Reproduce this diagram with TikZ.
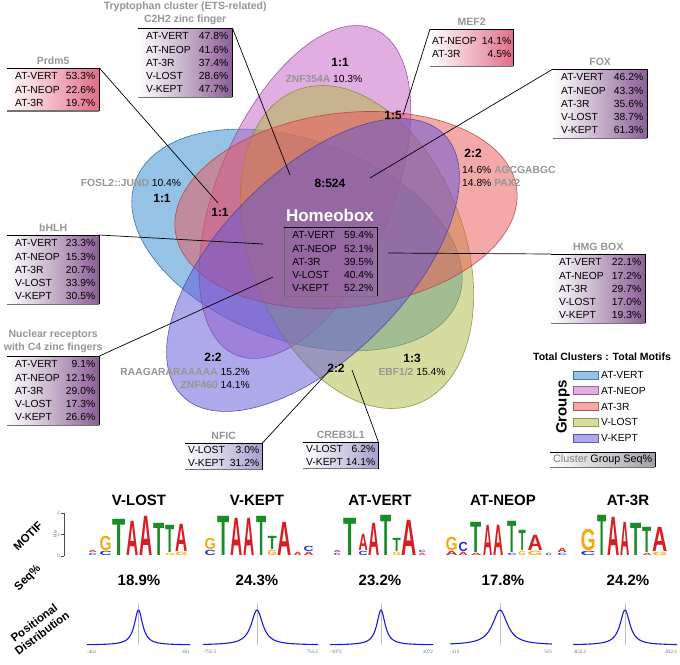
\documentclass[tikz,border=0pt]{standalone}
\usepackage{fontspec}
\setmainfont{Liberation Sans}
\newfontfamily\axisfont{Liberation Serif}
\usepackage{graphicx}
\usetikzlibrary{positioning}
\definecolor{vert}{RGB}{45,135,205}
\definecolor{neop}{RGB}{195,95,195}
\definecolor{thr}{RGB}{235,85,85}
\definecolor{lost}{RGB}{175,185,65}
\definecolor{kept}{RGB}{95,85,215}
\definecolor{boxpurple}{RGB}{140,95,150}
\definecolor{boxpink}{RGB}{225,110,135}
\definecolor{boxlav}{RGB}{165,160,205}
\definecolor{boxgray}{RGB}{160,160,168}
\definecolor{lblgray}{RGB}{150,150,150}
\definecolor{lgA}{RGB}{215,30,35}
\definecolor{lgT}{RGB}{25,140,40}
\definecolor{lgG}{RGB}{245,170,20}
\definecolor{lgC}{RGB}{30,50,200}
\definecolor{distblue}{RGB}{25,25,230}

\newcommand{\boxfont}{\fontsize{10.3}{13.2}\selectfont}
\newcommand{\titlefont}{\fontsize{10.5}{13}\selectfont\bfseries}
\newcommand{\countfont}{\fontsize{12}{14}\selectfont\bfseries}
\newcommand{\srow}[3][4pt]{\hspace*{#1}#2\hfill#3}
\newcommand{\gname}[1]{\textcolor{lblgray}{\bfseries #1}}
\newcount\lgcount
\newcommand{\lgl}[5]{% x, bottom, width, height, letter
  \global\advance\lgcount by 1
  \pgfmathsetmacro\lgw{#3-0.8}\pgfmathsetmacro\lgh{#4-0.8}%
  \node[logoletter] (lg\the\lgcount) at (#1+0.4,#2-0.4) {\resizebox{\lgw pt}{\lgh pt}{\textcolor{lg#5}{#5}}};}

\tikzset{
  venn/.style={fill=#1, draw=#1!75!black, fill opacity=0.5, draw opacity=0.85, line width=0.6pt},
  statbox/.style={anchor=north west, inner xsep=4pt, inner ysep=4.5pt, left color=white, right color=#1, align=left, font=\boxfont},
  grptitle/.style={font=\titlefont, text=lblgray, inner sep=1pt, align=center},
  countlbl/.style={font=\countfont, inner sep=1pt},
  pctlbl/.style={font=\boxfont, inner sep=1pt},
  leader/.style={black, line width=0.7pt},
  logoletter/.style={anchor=south west, inner sep=0pt, font=\fontsize{10}{10}\selectfont\bfseries},
  coltitle/.style={font=\fontsize{15}{17}\selectfont\bfseries},
  rowtitle/.style={font=\fontsize{11.5}{13}\selectfont\bfseries, align=center},
  distline/.style={distblue, line width=1.1pt},
  axislbl/.style={font=\axisfont\fontsize{5}{5}\selectfont, text=black!60, inner sep=0pt},
}

\begin{document}
\begin{tikzpicture}[x=1pt, y=-1pt]
  \useasboundingbox (0,0) rectangle (680,664);
  \fill[white] (0,0) rectangle (680,664);

  % five group ellipses
  \filldraw[venn=vert, rotate around={-20:(297,240)}] (297,240) ellipse [x radius=172pt, y radius=100pt];
  \filldraw[venn=neop, rotate around={67:(305,192)}] (305,192) ellipse [x radius=177pt, y radius=87pt];
  \filldraw[venn=lost, rotate around={-69:(357,247)}] (357,247) ellipse [x radius=168pt, y radius=107pt];
  \filldraw[venn=thr, rotate around={7:(346,210)}] (346,210) ellipse [x radius=172pt, y radius=97pt];
  \filldraw[venn=kept, rotate around={45:(313,265)}] (313,265) ellipse [x radius=185pt, y radius=93pt];

  % cluster counts
  \node[countlbl] (n11a) at (340,62) {1:1};
  \node[pctlbl] (znfa) at (324,79) {\gname{ZNF354A} 10.3\%};
  \node[countlbl] (n15) at (393,115) {1:5};
  \node[countlbl] (n22a) at (473,153) {2:2};
  \node[pctlbl, anchor=west] (agcg) at (461,170) {14.6\% \gname{AGCGABGC}};
  \node[pctlbl, anchor=west] (pax) at (461,183) {14.8\% \gname{PAX2}};
  \node[countlbl] (n8) at (330,183) {8:524};
  \node[pctlbl] (fosl) at (131,183) {\gname{FOSL2::JUND} 10.4\%};
  \node[countlbl] (n11b) at (162,198) {1:1};
  \node[countlbl] (n11c) at (220,212) {1:1};
  \node[font=\fontsize{17}{19}\selectfont\bfseries, text=white] (homeotitle) at (330,215) {Homeobox};
  \node[countlbl] (n22b) at (213,357) {2:2};
  \node[pctlbl, anchor=east] (raag) at (251,372) {\gname{RAAGARARAAAAA} 15.2\%};
  \node[pctlbl, anchor=east] (znfb) at (251,385) {\gname{ZNF460} 14.1\%};
  \node[countlbl] (n22c) at (336,368) {2:2};
  \node[countlbl] (n13) at (412,358) {1:3};
  \node[pctlbl] (ebf) at (412,372) {\gname{EBF1/2} 15.4\%};

  % cluster boxes
  \node[anchor=north west, draw=black!60, line width=0.5pt, inner xsep=4pt, inner ysep=4.5pt, align=left, font=\boxfont, text width=85pt] (homeo) at (284,227)
    {\srow{AT-VERT}{59.4\%}\\ \srow{AT-NEOP}{52.1\%}\\ \srow{AT-3R}{39.5\%}\\ \srow{V-LOST}{40.4\%}\\ \srow{V-KEPT}{52.2\%}};
  \node[statbox=boxpurple, text width=86pt] (trp) at (138,28)
    {\srow{AT-VERT}{47.8\%}\\ \srow{AT-NEOP}{41.6\%}\\ \srow{AT-3R}{37.4\%}\\ \srow{V-LOST}{28.6\%}\\ \srow{V-KEPT}{47.7\%}};
  \node[statbox=boxpink, text width=84pt] (prdm) at (7,68)
    {\srow{AT-VERT}{53.3\%}\\ \srow{AT-NEOP}{22.6\%}\\ \srow{AT-3R}{19.7\%}};
  \node[statbox=boxpink, text width=79pt, inner xsep=2pt, minimum height=37pt] (mef) at (430,29)
    {\srow[0pt]{AT-NEOP}{14.1\%}\\ \srow[0pt]{AT-3R}{4.5\%}};
  \node[statbox=boxpurple, text width=86pt] (fox) at (553,69)
    {\srow{AT-VERT}{46.2\%}\\ \srow{AT-NEOP}{43.3\%}\\ \srow{AT-3R}{35.6\%}\\ \srow{V-LOST}{38.7\%}\\ \srow{V-KEPT}{61.3\%}};
  \node[statbox=boxpurple, text width=86pt] (hmg) at (551,254)
    {\srow{AT-VERT}{22.1\%}\\ \srow{AT-NEOP}{17.2\%}\\ \srow{AT-3R}{29.7\%}\\ \srow{V-LOST}{17.0\%}\\ \srow{V-KEPT}{19.3\%}};
  \node[statbox=boxpurple, text width=84pt] (bhlh) at (7,235)
    {\srow{AT-VERT}{23.3\%}\\ \srow{AT-NEOP}{15.3\%}\\ \srow{AT-3R}{20.7\%}\\ \srow{V-LOST}{33.9\%}\\ \srow{V-KEPT}{30.5\%}};
  \node[statbox=boxpurple, text width=84pt] (nucr) at (7,356)
    {\srow{AT-VERT}{9.1\%}\\ \srow{AT-NEOP}{12.1\%}\\ \srow{AT-3R}{29.0\%}\\ \srow{V-LOST}{17.3\%}\\ \srow{V-KEPT}{26.6\%}};
  \node[statbox=boxlav, text width=71pt, inner xsep=3pt, inner ysep=3pt] (nfic) at (185,443)
    {\srow[0pt]{V-LOST}{3.0\%}\\ \srow[0pt]{V-KEPT}{31.2\%}};
  \node[statbox=boxlav, text width=69pt, inner xsep=3pt, inner ysep=3pt] (creb) at (303,442)
    {\srow[0pt]{V-LOST}{6.2\%}\\ \srow[0pt]{V-KEPT}{14.1\%}};
  \node[statbox=boxgray, inner xsep=2pt, inner ysep=2.5pt, minimum width=105pt, font=\fontsize{10.8}{12}\selectfont] (clus) at (550,452)
    {\textcolor{black!50}{Cluster} Group Seq\%};

  \foreach \bx in {trp,prdm,mef,fox,hmg,bhlh,nucr,nfic,creb,homeo,clus} {
    \draw[black, line width=0.7pt] (\bx.north west) -- (\bx.north east);
    \draw[black, line width=1.4pt] (\bx.north east) -- (\bx.south east);
    \draw[black!55, line width=1.2pt] (\bx.south east) -- (\bx.south west);
  }

  % family names
  \node[grptitle, above=2pt of trp] (trptitle) {Tryptophan cluster (ETS-related)\\C2H2 zinc finger};
  \node[grptitle, above=2pt of prdm] (prdmtitle) {Prdm5};
  \node[grptitle, above=2pt of mef] (meftitle) {MEF2};
  \node[grptitle, above=2pt of fox] (foxtitle) {FOX};
  \node[grptitle, above=2pt of hmg] (hmgtitle) {HMG BOX};
  \node[grptitle, above=2pt of bhlh] (bhlhtitle) {bHLH};
  \node[grptitle, above=2pt of nucr] (nucrtitle) {Nuclear receptors\\with C4 zinc fingers};
  \node[grptitle, above=2pt of nfic] (nfictitle) {NFIC};
  \node[grptitle, above=2pt of creb] (crebtitle) {CREB3L1};

  % leader lines
  \coordinate (trpend) at (290,175);
  \coordinate (prdmend) at (218,203);
  \coordinate (mefend) at (403,115);
  \coordinate (foxend) at (370,178);
  \coordinate (hmgend) at (388,253);
  \coordinate (bhlhend) at (263,244);
  \coordinate (nucrend) at (273,277);
  \coordinate (nficend) at (328,372);
  \coordinate (crebend) at (352,370);
  \draw[leader] (trp.north east) -- (trpend);
  \draw[leader] (prdm.north east) -- (prdmend);
  \draw[leader] (mef.north west) -- (mefend);
  \draw[leader] (fox.north west) -- (foxend);
  \draw[leader] (hmg.north west) -- (hmgend);
  \draw[leader] (bhlh.north east) -- (bhlhend);
  \draw[leader] (nucr.north east) -- (nucrend);
  \draw[leader] (nfic.north east) -- (nficend);
  \draw[leader] (creb.north east) -- (crebend);

  % legend
  \node[font=\fontsize{10.5}{12}\selectfont\bfseries] (legtitle) at (602,357) {Total Clusters : Total Motifs};
  \node[font=\fontsize{15}{17}\selectfont\bfseries, rotate=90] (groups) at (563,407) {Groups};
  \foreach \grp/\col [count=\i] in {AT-VERT/vert, AT-NEOP/neop, AT-3R/thr, V-LOST/lost, V-KEPT/kept} {
    \filldraw[venn=\col] (573,{355.25+15.75*\i}) rectangle (598,{363.25+15.75*\i});
    \node[pctlbl, anchor=west] (leg\i) at (600,{359.25+15.75*\i}) {\grp};
  }

  % motif panel
  \foreach \grp/\cx/\pct [count=\i] in {V-LOST/139/18.9, V-KEPT/257/24.3, AT-VERT/380/23.2, AT-NEOP/503/17.8, AT-3R/628/24.2} {
    \node[coltitle] (col\i) at (\cx,500) {\grp};
    \node[coltitle] (seq\i) at (\cx,580) {\pct\%};
  }
  \node[rowtitle, rotate=45] (motiftitle) at (28,536) {MOTIF};
  \node[rowtitle, rotate=45] (seqtitle) at (28,578) {Seq\%};
  \node[rowtitle, rotate=37] (postitle) at (38,628) {Positional\\Distribution};

  \draw[black!70, line width=0.6pt] (64,513) -- (64,556);
  \foreach \t/\ty in {2/513, 1/534.5, 0/556} {
    \draw[black!70, line width=0.5pt] (61,\ty) -- (64,\ty);
    \node[axislbl, anchor=east] (bit\t) at (60,\ty) {\t};
  }
  \node[axislbl, rotate=90] (bits) at (55,534) {bits};

  % V-LOST logo
  \lgl{88}{556}{9}{3}{C} \lgl{88}{553}{9}{3}{A}
  \lgl{99}{556}{13}{5}{C} \lgl{99}{551}{13}{15}{G}
  \lgl{112}{556}{14}{37}{T}
  \lgl{126}{556}{13}{35}{A}
  \lgl{139}{556}{14}{40}{A}
  \lgl{153}{556}{12}{33}{T}
  \lgl{165}{556}{10}{3}{G} \lgl{165}{553}{10}{28}{T}
  \lgl{175}{556}{13}{4}{G} \lgl{175}{552}{13}{28}{A}
  % V-KEPT logo
  \lgl{204}{556}{12}{6}{C} \lgl{204}{550}{12}{12}{G}
  \lgl{217}{556}{13}{40}{T}
  \lgl{230}{556}{13}{38}{A}
  \lgl{243}{556}{12}{38}{A}
  \lgl{256}{556}{11}{40}{T}
  \lgl{267}{556}{10}{6}{G} \lgl{267}{550}{10}{14}{T}
  \lgl{277}{556}{15}{34}{A}
  \lgl{293}{556}{9}{4}{A}
  \lgl{303}{556}{11}{4}{A} \lgl{303}{552}{11}{6}{C}
  % AT-VERT logo
  \lgl{333}{556}{8}{3}{C} \lgl{333}{553}{8}{3}{A}
  \lgl{343}{556}{14}{38}{T}
  \lgl{358}{556}{10}{5}{C} \lgl{358}{551}{10}{17}{A}
  \lgl{368}{556}{12}{33}{A}
  \lgl{380}{556}{12}{41}{T}
  \lgl{392}{556}{9}{4}{G} \lgl{392}{552}{9}{14}{T}
  \lgl{401}{556}{16}{36}{A}
  \lgl{418}{556}{8}{3}{A} \lgl{418}{553}{8}{3}{C}
  % AT-NEOP logo
  \lgl{445}{556}{13}{5}{A} \lgl{445}{551}{13}{14}{G}
  \lgl{458}{556}{10}{4}{A} \lgl{458}{552}{10}{10}{C}
  \lgl{470}{556}{12}{3}{A} \lgl{470}{553}{12}{31}{T}
  \lgl{483}{556}{10}{31}{A}
  \lgl{493}{556}{11}{31}{A}
  \lgl{507}{556}{10}{3}{C} \lgl{507}{553}{10}{32}{T}
  \lgl{518}{556}{8}{5}{G} \lgl{518}{551}{8}{21}{T}
  \lgl{527}{556}{16}{5}{G} \lgl{527}{551}{16}{16}{A}
  \lgl{545}{556}{7}{3}{C}
  \lgl{557}{556}{10}{3}{C} \lgl{557}{553}{10}{5}{A}
  % AT-3R logo
  \lgl{580}{556}{16}{5}{C} \lgl{580}{551}{16}{22}{G}
  \lgl{597}{556}{10}{41}{T}
  \lgl{607}{556}{13}{39}{A}
  \lgl{620}{556}{10}{34}{A}
  \lgl{630}{556}{12}{33}{T}
  \lgl{642}{556}{10}{3}{A} \lgl{642}{553}{10}{26}{T}
  \lgl{652}{556}{16}{4}{G} \lgl{652}{552}{16}{25}{A}

  % positional distributions
  \foreach \lo/\hi/\pc/\hw/\lbl [count=\i] in {87/190/138.5/5/451, 203/318/257/7/755.5, 330/433/381/5/1072, 450/552/500/9/515, 573/677/625/6/832.5} {
    \draw[black!25, line width=0.4pt] (\pc,603) -- (\pc,645);
    \draw[distline] plot[domain=\lo:\hi, samples=150, smooth] (\x, {645-35/(1+((\x-\pc)/\hw)^2)});
    \node[axislbl, anchor=west] (lo\i) at (\lo,652) {-\lbl};
    \node[axislbl, anchor=east] (hi\i) at (\hi,652) {\lbl};
  }
\end{tikzpicture}
\end{document}
